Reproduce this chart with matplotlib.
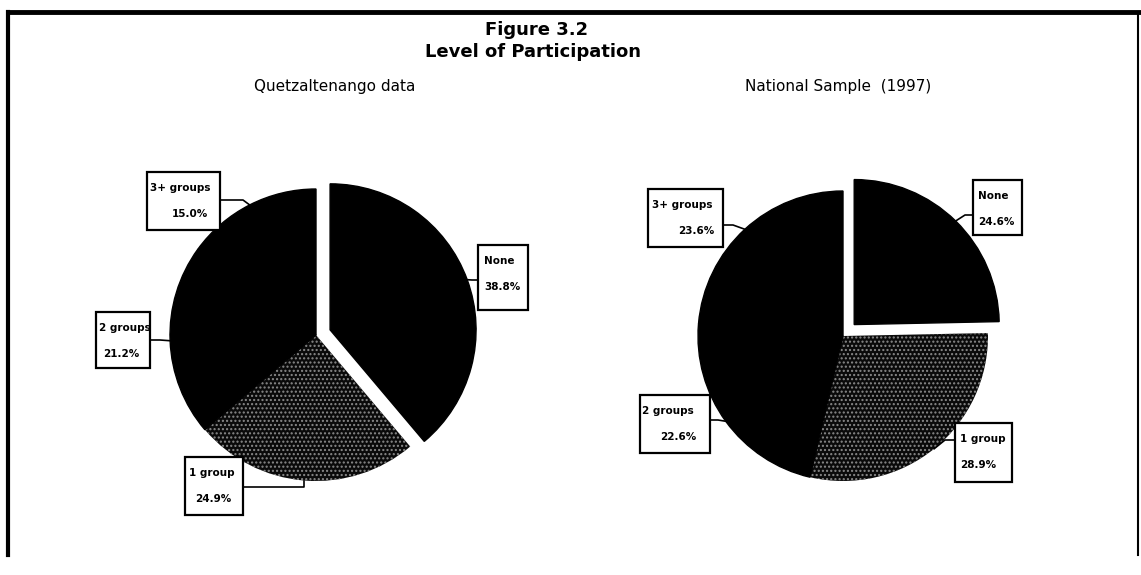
import matplotlib.pyplot as plt
import numpy as np
from matplotlib.patches import Rectangle

W, H = 1141, 575

categories = ["None", "1 group", "2 groups", "3+ groups"]
quetz_pct = [38.8, 24.9, 21.2, 15.0]
national_pct = [24.6, 28.9, 22.6, 23.6]
subtitles = ["Quetzaltenango data", "National Sample  (1997)"]


def Y(y):
    # pixel row (from top) -> data y
    return H - y


fig = plt.figure(figsize=(W / 100, H / 100), dpi=100)
ax = fig.add_axes([0, 0, 1, 1])

stipple = dict(facecolor="#0a0a0a", hatch="....", edgecolor="#8a8a8a", linewidth=0)
solid = dict(facecolor="black", edgecolor="black", linewidth=1)

# per-pie layout: center, radius, offset of the "None" slice (pixels)
pies = [
    dict(values=quetz_pct, center=(316, 335), r=146, explode=15, sub_x=335),
    dict(values=national_pct, center=(843, 336), r=145, explode=16, sub_x=838),
]

# label boxes: (x0, y0, x1, y1), line-1 x, line-2 x, attach point, elbow x
boxes = [
    {
        "None": ((478, 245, 528, 310), 484, 484, (478, 280), 472),
        "1 group": ((185, 457, 243, 515), 189, 195, (243, 487), None),
        "2 groups": ((96, 312, 150, 368), 99, 103, (150, 340), 160),
        "3+ groups": ((147, 172, 220, 230), 150, 172, (220, 200), 243),
    },
    {
        "None": ((973, 180, 1022, 235), 978, 978, (973, 215), 965),
        "1 group": ((955, 423, 1012, 482), 960, 960, (955, 440), 945),
        "2 groups": ((640, 395, 710, 453), 642, 660, (710, 420), 718),
        "3+ groups": ((648, 189, 723, 247), 652, 678, (723, 225), 733),
    },
]

for i, (pie, lab) in enumerate(zip(pies, boxes)):
    cx, cy = pie["center"]
    explode = [pie["explode"], 0, 0, 0]
    wedges, _ = ax.pie(
        pie["values"], explode=explode, startangle=90, counterclock=False,
        radius=pie["r"], center=(cx, Y(cy)),
    )
    for w, name in zip(wedges, categories):
        w.set(**(stipple if name == "1 group" else solid))

    ax.text(pie["sub_x"], Y(87), subtitles[i], ha="center",
            va="center", fontsize=11, family="DejaVu Sans")

    for w, name, val in zip(wedges, categories, pie["values"]):
        (x0, y0, x1, y1), tx1, tx2, (axp, ayp), ex = lab[name]
        ax.add_patch(Rectangle((x0, Y(y1)), x1 - x0, y1 - y0, facecolor="white",
                               edgecolor="black", linewidth=1.6, zorder=3))
        ax.text(tx1, Y(y0 + 16), name, ha="left", va="center", fontsize=7.5,
                fontweight="bold", zorder=4)
        ax.text(tx2, Y(y0 + 42), f"{val:.1f}%", ha="left", va="center",
                fontsize=7.5, fontweight="bold", zorder=4)
        mid = np.deg2rad((w.theta1 + w.theta2) / 2)
        px = w.center[0] + w.r * np.cos(mid)
        py = w.center[1] + w.r * np.sin(mid)
        if ex is None:
            ex = px
        ax.plot([axp, ex, px], [Y(ayp), Y(ayp), py], color="black", lw=1.2, zorder=2)

ax.text(537, Y(30), "Figure 3.2", ha="center", va="center", fontsize=13,
        fontweight="bold", family="DejaVu Sans")
ax.text(533, Y(52), "Level of Participation", ha="center", va="center",
        fontsize=13, fontweight="bold", family="DejaVu Sans")

# frame
ax.plot([8, 8], [Y(12), Y(555)], color="black", lw=3)
ax.plot([8, W], [Y(12), Y(12)], color="black", lw=3.5)
ax.plot([1138, 1138], [Y(12), Y(555)], color="black", lw=1.5)

ax.set_xlim(0, W)
ax.set_ylim(0, H)
ax.set_aspect("equal")
ax.axis("off")

fig.savefig("out.png", dpi=100, facecolor="white")
